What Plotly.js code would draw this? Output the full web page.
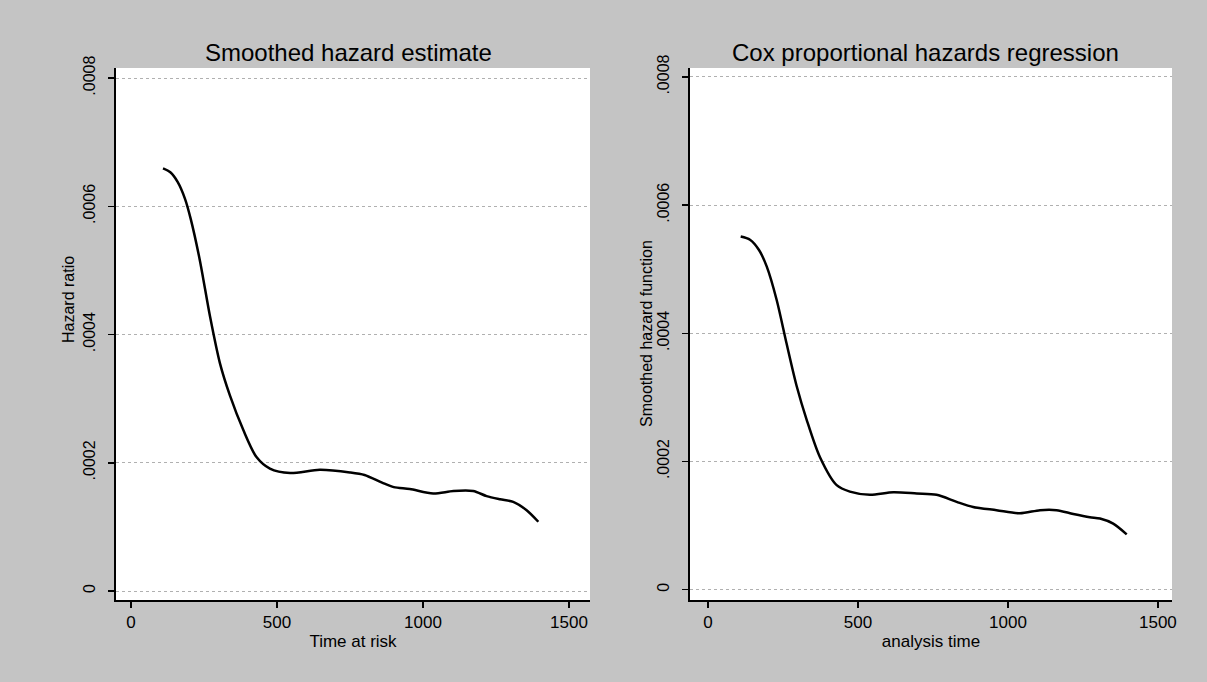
<!DOCTYPE html>
<html>
<head>
<meta charset="utf-8">
<script src="https://cdn.plot.ly/plotly-3.0.1.min.js"></script>
<style>html,body{margin:0;padding:0;background:#c4c4c4;}#chart{width:1207px;height:682px;}</style>
</head>
<body>
<div id="chart"></div>
<script>
// Left panel: smoothed hazard estimate
const hazTime = [110,135,160,185,205,236,271,305,339,385,430,476,545,647,750,800,860,900,955,1035,1104,1172,1218,1264,1309,1355,1395];
const hazValue = [0.000659,0.000653,0.000638,0.000612,0.000580,0.000516,0.000428,0.000355,0.000305,0.000251,0.000209,0.000191,0.000184,0.000189,0.000185,0.000181,0.000169,0.000162,0.000159,0.000152,0.000156,0.000156,0.000148,0.000143,0.000139,0.000126,0.000108];
// Right panel: Cox smoothed hazard function
const coxTime = [109,140,170,196,229,262,296,329,373,429,473,540,618,696,762,829,884,962,1040,1107,1162,1218,1273,1307,1351,1396];
const coxValue = [0.000551,0.000546,0.000530,0.000504,0.000452,0.000384,0.000317,0.000265,0.000207,0.000163,0.000153,0.000148,0.000152,0.000150,0.000148,0.000137,0.000129,0.000124,0.000119,0.000124,0.000124,0.000118,0.000113,0.000111,0.000103,0.0000863];
const xTickVals = [0,500,1000,1500];
const xTickText = ["0","500","1000","1500"];
const yTickVals = [0,0.0002,0.0004,0.0006,0.0008];
const yTickText = ["0",".0002",".0004",".0006",".0008"];
const panelTitles = ["Smoothed hazard estimate","Cox proportional hazards regression"];
const xTitles = ["Time at risk","analysis time"];
const yTitles = ["Hazard ratio","Smoothed hazard function"];

const font = "Liberation Sans, Arial, sans-serif";
const lineStyle = {color:'black', width:2.5, shape:'spline', smoothing:0.8};

const traces = [
  {x:hazTime, y:hazValue, type:'scatter', mode:'lines', line:lineStyle, xaxis:'x', yaxis:'y', showlegend:false, hoverinfo:'x+y'},
  {x:coxTime, y:coxValue, type:'scatter', mode:'lines', line:lineStyle, xaxis:'x2', yaxis:'y2', showlegend:false, hoverinfo:'x+y'}
];

function xAxis(domain, range, anchor, title){
  return {domain:domain, range:range, anchor:anchor, tickvals:xTickVals, ticktext:xTickText,
    showline:true, linecolor:'black', linewidth:2, ticks:'outside', ticklen:6, tickwidth:1.5, tickcolor:'black',
    showgrid:false, zeroline:false, tickfont:{family:font, size:17, color:'black'},
    title:{text:title, font:{family:font, size:17, color:'black'}, standoff:4}};
}
function yAxis(domain, range, anchor){
  return {domain:domain, range:range, anchor:anchor, tickvals:yTickVals, ticktext:yTickText, tickangle:-90,
    showline:true, linecolor:'black', linewidth:2, ticks:'outside', ticklen:6, tickwidth:1.5, tickcolor:'black',
    ticklabelstandoff:7,
    showgrid:true, gridcolor:'#b0b0b0', griddash:'dot', gridwidth:1, zeroline:false,
    tickfont:{family:font, size:16, color:'black'}};
}

const yDom = [1-600/682, 1-68/682];
const layout = {
  width:1207, height:682,
  margin:{l:0,r:0,t:0,b:0},
  paper_bgcolor:'#c4c4c4', plot_bgcolor:'white',
  xaxis: xAxis([116/1207, 590/1207], [-51,1572], 'y', xTitles[0]),
  yaxis: yAxis(yDom, [-0.000014, 0.0008156], 'x'),
  xaxis2: xAxis([690/1207, 1172/1207], [-60,1547], 'y2', xTitles[1]),
  yaxis2: yAxis(yDom, [-0.0000162, 0.000814], 'x2'),
  annotations:[
    {text:panelTitles[0], xref:'paper', yref:'paper', x:348/1207, y:1-52/682, showarrow:false, xanchor:'center', yanchor:'middle', font:{family:font, size:24, color:'black'}},
    {text:panelTitles[1], xref:'paper', yref:'paper', x:925/1207, y:1-52/682, showarrow:false, xanchor:'center', yanchor:'middle', font:{family:font, size:24, color:'black'}},
    {text:yTitles[0], xref:'paper', yref:'paper', x:68/1207, y:1-300/682, showarrow:false, textangle:-90, xanchor:'center', yanchor:'middle', font:{family:font, size:16, color:'black'}},
    {text:yTitles[1], xref:'paper', yref:'paper', x:646/1207, y:1-334/682, showarrow:false, textangle:-90, xanchor:'center', yanchor:'middle', font:{family:font, size:16, color:'black'}}
  ]
};
Plotly.newPlot('chart', traces, layout, {displayModeBar:false, staticPlot:true});
</script>
</body>
</html>
